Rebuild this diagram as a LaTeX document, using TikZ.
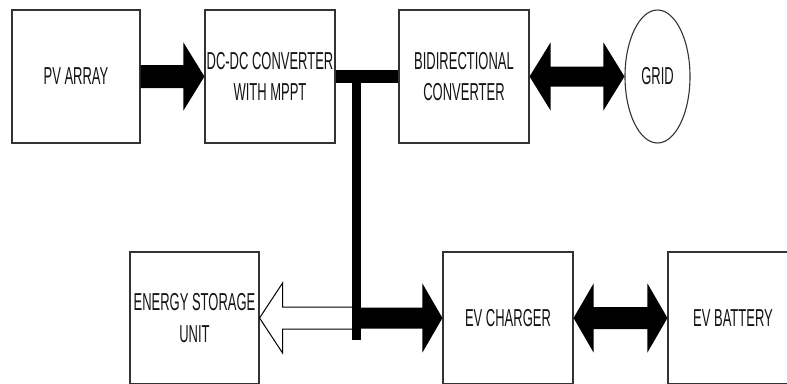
\documentclass[tikz,border=0pt]{standalone}
\usepackage{fontspec}
\newfontfamily\narrowfont[FakeStretch=0.53]{Liberation Sans}
\usetikzlibrary{calc,shapes.geometric}
\begin{document}
\begin{tikzpicture}[x=1pt,y=-1pt,
  box/.style={draw=black!80, line width=1.1pt, minimum width=130pt, minimum height=133pt,
    inner sep=0pt, align=center, text=black!92,
    font=\narrowfont\fontsize{24.5}{31.5}\selectfont},
  fat/.style={fill=black},
  hollow/.style={fill=white, draw=black, line width=1pt, line join=miter},
  bus/.style={draw=black}]
\useasboundingbox (0,0) rectangle (787,383);
\clip (0,0) rectangle (787,383);
\fill[white] (0,0) rectangle (787,383);

% blocks
\node[box, minimum width=128pt] (pv) at (76,76.5) {PV ARRAY};
\node[box] (dc) at (270,76.5) {DC-DC CONVERTER\\WITH MPPT};
\node[box] (bd) at (464,76.5) {BIDIRECTIONAL\\CONVERTER};
\node[box, ellipse, minimum width=65pt, minimum height=133pt] (grid) at (657.5,76.5) {GRID};
\node[box, minimum width=129pt, minimum height=132pt] (es) at (194.5,318) {ENERGY STORAGE\\UNIT};
\node[box, minimum height=132pt] (ev) at (508,318) {EV CHARGER};
\node[box, minimum height=132pt] (eb) at (733,318) {EV BATTERY};

% bus coordinates
\coordinate (busT) at (356.5,70);
\coordinate (busB) at (356.5,340);
\coordinate (busS) at (356.5,318);

% PV -> DC-DC
\coordinate (a1) at ($(dc.west)!21pt!(pv.east)$);
\fill[fat] ($(pv.east)+(0,-11.5)$) -- ($(a1)+(0,-11.5)$) -- ($(a1)+(0,-34)$) -- (dc.west)
  -- ($(a1)+(0,34)$) -- ($(a1)+(0,11.5)$) -- ($(pv.east)+(0,11.5)$) -- cycle;

% Bidirectional <-> Grid
\coordinate (b1) at ($(bd.east)!21pt!(grid.west)$);
\coordinate (b2) at ($(grid.west)!21pt!(bd.east)$);
\fill[fat] (bd.east) -- ($(b1)+(0,-34)$) -- ($(b1)+(0,-10)$) -- ($(b2)+(0,-10)$) -- ($(b2)+(0,-34)$)
  -- (grid.west) -- ($(b2)+(0,34)$) -- ($(b2)+(0,10)$) -- ($(b1)+(0,10)$) -- ($(b1)+(0,34)$) -- cycle;

% bus -> energy storage (hollow)
\coordinate (c1) at ($(es.east)!23pt!(busS)$);
\filldraw[hollow] ($(busS)+(0,-11)$) -- ($(c1)+(0,-11)$) -- ($(c1)+(0,-35)$) -- (es.east)
  -- ($(c1)+(0,35)$) -- ($(c1)+(0,11)$) -- ($(busS)+(0,11)$) -- cycle;

% bus -> EV charger
\coordinate (d1) at ($(ev.west)!20pt!(busS)$);
\fill[fat] ($(busS)+(0,-10.5)$) -- ($(d1)+(0,-10.5)$) -- ($(d1)+(0,-34.5)$) -- (ev.west)
  -- ($(d1)+(0,34.5)$) -- ($(d1)+(0,10.5)$) -- ($(busS)+(0,10.5)$) -- cycle;

% EV charger <-> EV battery
\coordinate (e1) at ($(ev.east)!20pt!(eb.west)$);
\coordinate (e2) at ($(eb.west)!20pt!(ev.east)$);
\fill[fat] (ev.east) -- ($(e1)+(0,-34.5)$) -- ($(e1)+(0,-11)$) -- ($(e2)+(0,-11)$) -- ($(e2)+(0,-34.5)$)
  -- (eb.west) -- ($(e2)+(0,34.5)$) -- ($(e2)+(0,11)$) -- ($(e1)+(0,11)$) -- ($(e1)+(0,34.5)$) -- cycle;

% DC bus
\draw[bus, line width=13pt] (dc.east) -- (bd.west);
\draw[bus, line width=9pt] (busT) -- (busB);
\end{tikzpicture}
\end{document}
